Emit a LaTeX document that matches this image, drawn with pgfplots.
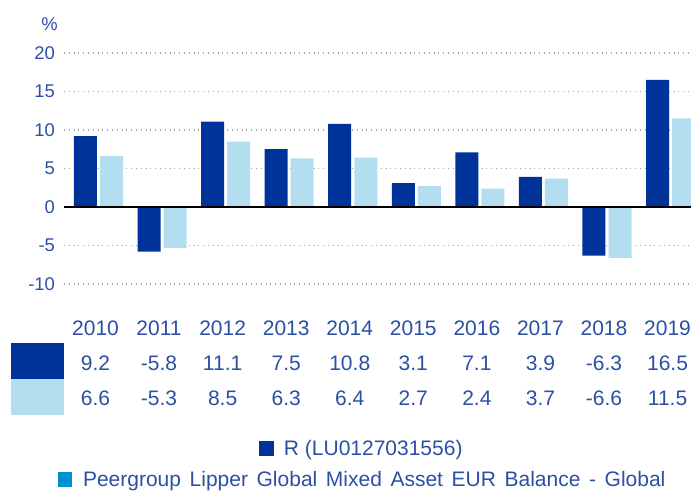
\documentclass[border=0pt]{standalone}
\usepackage{pgfplots}
\pgfplotsset{compat=1.18}
\usepackage{pgfplotstable}
\usepackage{fontspec}
\setmainfont{Liberation Sans}
\definecolor{darkb}{HTML}{003399}
\definecolor{lightb}{HTML}{B3DEF0}
\definecolor{txt}{HTML}{2B4FA5}
\definecolor{legblue}{HTML}{0090CF}
\pgfplotstableread{
x r p
0 9.2 6.6
1 -5.8 -5.3
2 11.1 8.5
3 7.5 6.3
4 10.8 6.4
5 3.1 2.7
6 7.1 2.4
7 3.9 3.7
8 -6.3 -6.6
9 16.5 11.5
}\data
\begin{document}
\begin{tikzpicture}[x=1pt,y=1pt]
\useasboundingbox (0,0) rectangle (345.5,245.5);
\begin{axis}[
  at={(32pt,91.95pt)}, anchor=south west,
  scale only axis, width=313.5pt, height=146.3pt,
  xmin=-0.543, xmax=9.322, ymin=-13, ymax=25,
  axis line style={draw=none}, tick style={draw=none},
  ytick={-10,-5,0,5,10,15,20},
  ymajorgrids, major grid style={gray!70, dotted, line width=0.6pt},
  /pgf/number format/assume math mode=true,
  yticklabel style={font=\fontsize{9.2}{11}\selectfont, text=txt, anchor=east, inner sep=0pt, xshift=-4.35pt},
  xtick={0,...,9},
  xticklabels={{2010\\9.2\\6.6},{2011\\-5.8\\-5.3},{2012\\11.1\\8.5},{2013\\7.5\\6.3},{2014\\10.8\\6.4},{2015\\3.1\\2.7},{2016\\7.1\\2.4},{2017\\3.9\\3.7},{2018\\-6.3\\-6.6},{2019\\16.5\\11.5}},
  xticklabel style={font=\fontsize{10.5}{17.5}\selectfont, text=txt, align=center, anchor=north, inner sep=0pt, yshift=-6.45pt, xshift=-1.5pt},
]
\addplot[ybar, fill=darkb, draw=none, bar width=0.362, bar shift=-0.205] table[x=x,y=r]{\data};
\addplot[ybar, fill=lightb, draw=none, bar width=0.362, bar shift=0.205] table[x=x,y=p]{\data};
\draw[black, line width=0.75pt] ({rel axis cs:0,0} |- {axis cs:0,0}) -- ({rel axis cs:1,0} |- {axis cs:0,0});
\end{axis}
\node[font=\fontsize{9.2}{11}\selectfont, text=txt] at (24.75,233.2) {\%};
\fill[darkb] (5.5,56) rectangle (32,74.15);
\fill[lightb] (5.5,38.15) rectangle (32,56);
\node[anchor=base, inner sep=0pt, font=\fontsize{10.5}{12.6}\selectfont, text=txt] at (180.5,17.5) {\textcolor{darkb}{\rule{7.25pt}{7.25pt}}\hspace{5pt}R (LU0127031556)};
\node[anchor=base, inner sep=0pt, font=\fontsize{10.5}{12.6}\selectfont, text=txt] at (180.75,2) {\spaceskip=4.3pt\textcolor{legblue}{\rule{7.25pt}{7.25pt}}\hspace{5.5pt}Peergroup Lipper Global Mixed Asset EUR Balance - Global};
\end{tikzpicture}
\end{document}
